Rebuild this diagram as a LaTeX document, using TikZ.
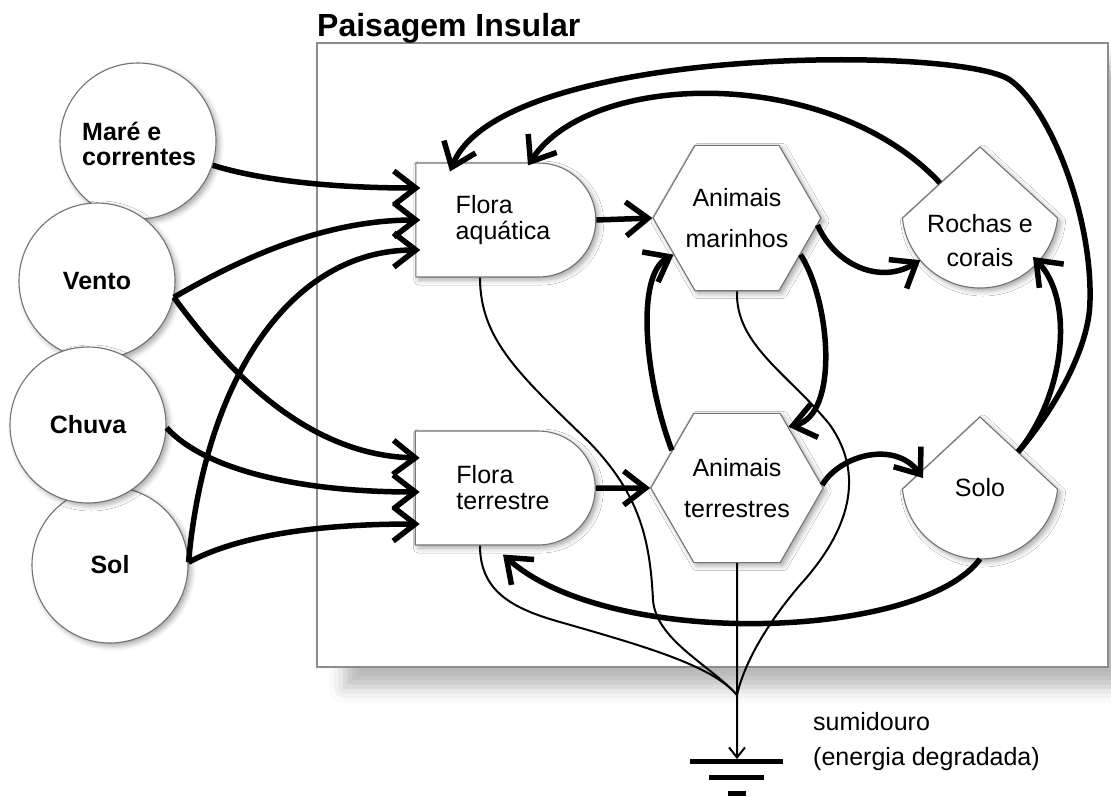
\documentclass[tikz,border=0pt]{standalone}
\usepackage{fontspec}
\setmainfont{Liberation Sans}
\usetikzlibrary{shapes.geometric,shapes.misc,arrows.meta,calc,shadows.blur}

\begin{document}
\begin{tikzpicture}[x=1pt,y=-1pt,
  softshadow/.style={blur shadow={shadow xshift=3pt,shadow yshift=-3pt,shadow blur radius=5pt,shadow opacity=35}},
  outline/.style={draw=black!55,line width=1.1pt,fill=white},
  source/.style={circle,outline,softshadow,minimum size=156pt,inner sep=0pt,align=center,
    font=\bfseries\fontsize{25}{25}\selectfont},
  producer/.style={rounded rectangle,rounded rectangle left arc=none,outline,softshadow,
    minimum width=180pt,minimum height=114pt,inner sep=0pt,align=left,
    font=\fontsize{25}{26}\selectfont},
  consumer/.style={regular polygon,regular polygon sides=6,outline,softshadow,
    minimum size=150pt,inner sep=0pt,align=center,font=\fontsize{25}{41}\selectfont},
  tank/.style={outline,softshadow},
  txt/.style={inner sep=0pt,align=center,font=\fontsize{25}{34}\selectfont},
  flow/.style={line width=5.5pt,-{Straight Barb[length=22pt,width=34pt]}},
  loss/.style={line width=2pt},
  lossarrow/.style={line width=2pt,-{Straight Barb[length=10pt,width=16pt]}},
  groundbar/.style={line width=5pt}]

\useasboundingbox (0,0) rectangle (1111,796);

% landscape frame with its shadow
\node[draw=black!45,line width=1.2pt,fill=white,inner sep=0pt,
  blur shadow={shadow xshift=28pt,shadow yshift=-20pt,shadow blur radius=16pt,shadow opacity=28},
  minimum width=791pt,minimum height=624pt] (landscape) at (712.5,355) {};
\node[anchor=base west,inner sep=0pt,font=\bfseries\fontsize{32}{32}\selectfont] (title) at (317,36) {Paisagem Insular};

% external sources
\node[source] (mare) at (138,141) {};
\node[anchor=west,inner sep=0pt,align=left,font=\bfseries\fontsize{25}{25}\selectfont] (maretext) at (82,144) {Maré e\\correntes};
\node[source] (vento) at (97,281) {Vento};
\node[source] (sol) at (110,565) {Sol};
\node[source] (chuva) at (88,425) {Chuva};

% producers
\node[producer] (fa) at (503,220) {Flora\\aquática};
\node[producer] (ft) at (503,488) {Flora\\terrestre};

% consumers
\node[consumer] (am) at (737,218) {Animais\\marinhos};
\node[consumer] (at) at (737,488) {Animais\\terrestres};

% storages
\coordinate (rc) at (980,210);
\coordinate (so) at (980,481);
\draw[tank] ($(rc)+(186:78pt)$) arc[start angle=186,end angle=354,radius=78pt] -- ($(rc)+(90:63pt)$) -- cycle;
\draw[tank] ($(so)+(186:78pt)$) arc[start angle=186,end angle=354,radius=78pt] -- ($(so)+(90:64pt)$) -- cycle;
\node[txt] (rctext) at (980,241) {Rochas e\\corais};
\node[txt] (sotext) at (980,488) {Solo};

% sink
\coordinate (sink) at (737,695);
\coordinate (gtip) at (737,759);

% losses to the sink
\draw[loss] ($(fa.south)+(-23,0)$) .. controls (480,340) and (520,375) .. (590,443)
  .. controls (640,495) and (650,540) .. (653,600)
  .. controls (656,640) and (710,665) .. (sink);
\draw[loss] (am.south) .. controls (735,345) and (790,375) .. (830,425)
  .. controls (865,475) and (850,530) .. (800,585)
  .. controls (770,620) and (745,660) .. (sink);
\draw[loss] ($(ft.south)+(-23,0)$) .. controls (480,590) and (510,608) .. (560,622)
  .. controls (640,645) and (712,665) .. (sink);
\draw[lossarrow] (at.south) -- (gtip);

% ground symbol
\draw[groundbar] (690,761) -- (783,761);
\draw[groundbar] (709,777) -- (764,777);
\draw[groundbar] (728,793) -- (746,793);
\node[anchor=west,inner sep=0pt,align=left,font=\fontsize{25}{35}\selectfont] (sinktext) at (813,742)
  {sumidouro\\(energia degradada)};

% inputs to the aquatic flora
\draw[flow] (mare.-18) .. controls (260,180) and (330,188) .. ($(fa.west)+(5,-32)$);
\draw[flow] (vento.-12) .. controls (235,262) and (320,220) .. ($(fa.west)+(5,0)$);
\draw[flow] (sol.2) .. controls (205,380) and (290,250) .. ($(fa.west)+(5,30)$);

% inputs to the terrestrial flora
\draw[flow] (vento.-12) .. controls (220,360) and (300,455) .. ($(ft.west)+(5,-30)$);
\draw[flow] (chuva.-2) .. controls (205,470) and (300,492) .. ($(ft.west)+(5,4)$);
\draw[flow] (sol.2) .. controls (230,540) and (300,524) .. ($(ft.west)+(5,36)$);

% producers to consumers
\draw[flow] (fa.east) -- (am.west);
\draw[flow] (ft.east) -- (at.west);

% consumer exchanges
\draw[flow] (at.150) .. controls (645,380) and (635,275) .. (am.210);
\draw[flow] (am.-30) .. controls (830,300) and (840,415) .. (at.50);
\draw[flow] (am.-5) .. controls (835,265) and (880,285) .. ($(rc)+(220:78pt)$);
\draw[flow] (at.2) .. controls (840,455) and (895,440) .. ($(so)+(-57,-3)$);

% storage feedbacks
\draw[flow] ($(so)+(38,-29)$) .. controls (1065,395) and (1075,300) .. ($(rc)+(53,47)$);
\draw[flow] ($(so)+(38,-29)$) .. controls (1050,415) and (1090,350) .. (1090,300)
  .. controls (1092,215) and (1050,108) .. (1010,80)
  .. controls (960,45) and (500,45) .. ($(fa.north)+(-53,9)$);
\draw[flow] ($(rc)+(-40,-27)$) .. controls (830,65) and (590,70) .. ($(fa.north)+(25,3)$);
\draw[flow] ($(so)+(0,78)$) .. controls (920,640) and (610,650) .. ($(ft.south)+(0,9)$);

\end{tikzpicture}
\end{document}
